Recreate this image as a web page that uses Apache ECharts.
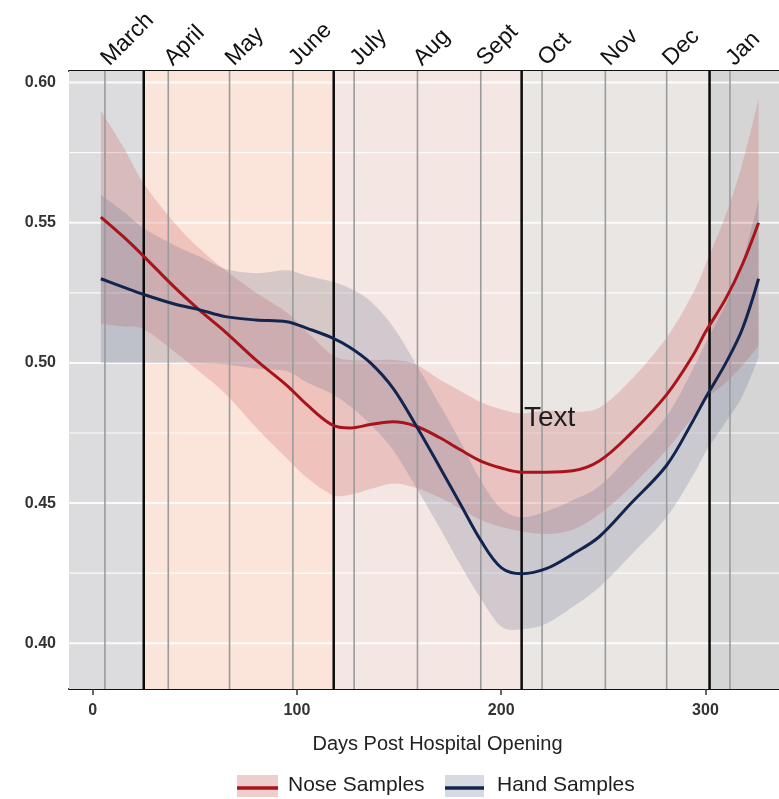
<!DOCTYPE html>
<html>
<head>
<meta charset="utf-8">
<script src="https://cdn.jsdelivr.net/npm/echarts@6/dist/echarts.min.js"></script>
<style>
  html, body { margin: 0; padding: 0; background: #fff; }
  #chart { width: 779px; height: 799px; }
</style>
</head>
<body>
<div id="chart"></div>
<script>
// axis ranges
const xMin = -11.6
const xMax = 336
const yMin = 0.3837
const yMax = 0.6041

const xTicks = [0, 100, 200, 300]
const yMajor = [0.40, 0.45, 0.50, 0.55, 0.60]
const yMinor = [0.425, 0.475, 0.525, 0.575]

const monthNames = ['March', 'April', 'May', 'June', 'July', 'Aug', 'Sept', 'Oct', 'Nov', 'Dec', 'Jan']
const monthDays = [6, 37, 67, 98, 128, 159, 190, 220, 251, 281, 312]
const seasonLines = [25, 118, 210, 302]
const seasonEdges = [xMin, 25, 118, 210, 302, xMax]
const seasonColors = ['#dcdcde', '#fbe5db', '#f4e6e3', '#e9e6e4', '#d5d5d6']

// smoothed curves and confidence ribbons
const days = [4, 15, 25, 40, 52, 65, 80, 95, 105, 117, 126, 136, 147, 158, 170, 180, 190, 200, 210, 222, 235, 248, 263, 281, 294, 300, 310, 318, 326]
const noseMid = [0.552, 0.545, 0.538, 0.527, 0.519, 0.511, 0.501, 0.492, 0.485, 0.478, 0.4768, 0.478, 0.479, 0.4775, 0.4733, 0.469, 0.465, 0.4625, 0.461, 0.461, 0.4615, 0.465, 0.4745, 0.4887, 0.5028, 0.511, 0.523, 0.535, 0.550]
const noseLow = [0.514, 0.513, 0.512, 0.504, 0.497, 0.489, 0.477, 0.466, 0.459, 0.453, 0.453, 0.455, 0.457, 0.4555, 0.452, 0.448, 0.444, 0.4415, 0.440, 0.439, 0.4405, 0.446, 0.4555, 0.469, 0.481, 0.487, 0.493, 0.499, 0.506]
const noseHigh = [0.590, 0.577, 0.564, 0.550, 0.541, 0.533, 0.525, 0.518, 0.511, 0.503, 0.501, 0.501, 0.501, 0.4995, 0.494, 0.490, 0.486, 0.4835, 0.482, 0.483, 0.4825, 0.484, 0.4935, 0.509, 0.525, 0.535, 0.553, 0.571, 0.594]
const handMid = [0.530, 0.527, 0.5244, 0.521, 0.519, 0.5165, 0.5153, 0.5147, 0.5123, 0.509, 0.5055, 0.500, 0.491, 0.478, 0.4627, 0.4497, 0.4367, 0.427, 0.4248, 0.4266, 0.4318, 0.438, 0.4495, 0.4635, 0.4795, 0.4875, 0.500, 0.512, 0.530]
const handLow = [0.500, 0.500, 0.500, 0.500, 0.500, 0.4995, 0.498, 0.497, 0.493, 0.489, 0.4845, 0.478, 0.469, 0.456, 0.441, 0.428, 0.416, 0.406, 0.405, 0.407, 0.413, 0.420, 0.431, 0.445, 0.460, 0.468, 0.479, 0.488, 0.502]
const handHigh = [0.560, 0.554, 0.548, 0.542, 0.538, 0.5335, 0.532, 0.533, 0.531, 0.529, 0.5265, 0.522, 0.513, 0.500, 0.485, 0.472, 0.458, 0.448, 0.445, 0.447, 0.451, 0.456, 0.467, 0.481, 0.498, 0.507, 0.521, 0.536, 0.558]

const FONT = 'Liberation Sans, Arial, sans-serif'
const NOSE = '#a8141b'
const HAND = '#13254f'

const chart = echarts.init(document.getElementById('chart'))

// catmull-rom through pixel points -> svg path commands (no leading M)
const curveThrough = (pts) => {
  let d = ''
  for (let i = 0; i < pts.length - 1; i++) {
    const p0 = pts[Math.max(i - 1, 0)]
    const p1 = pts[i]
    const p2 = pts[i + 1]
    const p3 = pts[Math.min(i + 2, pts.length - 1)]
    const c1 = [p1[0] + (p2[0] - p0[0]) / 6, p1[1] + (p2[1] - p0[1]) / 6]
    const c2 = [p2[0] - (p3[0] - p1[0]) / 6, p2[1] - (p3[1] - p1[1]) / 6]
    d += ' C' + c1[0] + ' ' + c1[1] + ' ' + c2[0] + ' ' + c2[1] + ' ' + p2[0] + ' ' + p2[1]
  }
  return d
}

// ribbon: upper edge forward, lower edge back
const ribbonItem = (low, high, fill) => (params, api) => {
  const top = days.map((d, i) => api.coord([d, high[i]]))
  const bot = days.map((d, i) => api.coord([d, low[i]])).reverse()
  const path = 'M' + top[0][0] + ' ' + top[0][1] + curveThrough(top) +
    ' L' + bot[0][0] + ' ' + bot[0][1] + curveThrough(bot) + ' Z'
  return { type: 'path', shape: { pathData: path }, style: { fill: fill } }
}

const option = {
  animation: false,
  textStyle: { fontFamily: FONT },
  grid: { left: 69, top: 71, right: 0, bottom: 110 },
  xAxis: [
    {
      type: 'value',
      position: 'bottom',
      min: xMin,
      max: xMax,
      axisLine: { show: true, onZero: false, lineStyle: { color: '#111', width: 2 } },
      axisTick: { show: true, customValues: xTicks, length: 6, lineStyle: { color: '#333', width: 1.5 } },
      axisLabel: { customValues: xTicks, fontSize: 16, fontWeight: 'bold', color: '#333', margin: 14 },
      splitLine: { show: false },
      name: 'Days Post Hospital Opening',
      nameLocation: 'middle',
      nameGap: 45,
      nameTextStyle: { fontSize: 20, color: '#222', padding: [0, 0, 0, 27] }
    },
    {
      type: 'value',
      position: 'top',
      min: xMin,
      max: xMax,
      axisLine: { show: true, onZero: false, lineStyle: { color: '#111', width: 2 } },
      axisTick: { show: false },
      axisLabel: {
        customValues: monthDays,
        formatter: function (v) { return monthNames[monthDays.indexOf(v)] },
        rotate: -45,
        fontSize: 23,
        color: '#111',
        margin: 9
      },
      splitLine: { show: false }
    }
  ],
  yAxis: {
    type: 'value',
    min: yMin,
    max: yMax,
    axisLine: { show: true, lineStyle: { color: '#111', width: 2 } },
    axisTick: { show: true, customValues: yMajor, length: 4, lineStyle: { color: '#333', width: 1.5 } },
    axisLabel: {
      customValues: yMajor,
      formatter: function (v) { return v.toFixed(2) },
      fontSize: 16,
      fontWeight: 'bold',
      color: '#333',
      margin: 13
    },
    splitLine: { show: false }
  },
  series: [
    {
      // season backgrounds
      type: 'custom',
      z: 1,
      silent: true,
      data: seasonColors.map((c, i) => [seasonEdges[i], seasonEdges[i + 1], i]),
      encode: { x: [0, 1] },
      renderItem: function (params, api) {
        const p0 = api.coord([api.value(0), yMax])
        const p1 = api.coord([api.value(1), yMin])
        return {
          type: 'rect',
          shape: { x: p0[0], y: p0[1], width: p1[0] - p0[0], height: p1[1] - p0[1] },
          style: { fill: seasonColors[api.value(2)] }
        }
      }
    },
    {
      // white horizontal grid lines
      type: 'custom',
      z: 2,
      silent: true,
      data: yMajor.map(v => [v, 1]).concat(yMinor.map(v => [v, 0])),
      encode: { y: 0 },
      renderItem: function (params, api) {
        const a = api.coord([xMin, api.value(0)])
        const b = api.coord([xMax, api.value(0)])
        return {
          type: 'line',
          shape: { x1: a[0], y1: a[1], x2: b[0], y2: b[1] },
          style: { stroke: 'rgba(255,255,255,0.85)', lineWidth: api.value(1) ? 2 : 1.2 }
        }
      }
    },
    {
      type: 'custom',
      z: 3,
      silent: true,
      data: [0],
      renderItem: ribbonItem(noseLow, noseHigh, 'rgba(205, 95, 95, 0.26)')
    },
    {
      type: 'custom',
      z: 3,
      silent: true,
      data: [0],
      renderItem: ribbonItem(handLow, handHigh, 'rgba(85, 100, 130, 0.22)')
    },
    {
      // month lines (grey) and season boundaries (black)
      type: 'custom',
      z: 4,
      silent: true,
      data: monthDays.map(d => [d, 0]).concat(seasonLines.map(d => [d, 1])),
      encode: { x: 0 },
      renderItem: function (params, api) {
        const a = api.coord([api.value(0), yMax])
        const b = api.coord([api.value(0), yMin])
        const black = api.value(1) === 1
        return {
          type: 'line',
          shape: { x1: a[0], y1: a[1], x2: b[0], y2: b[1] },
          style: { stroke: black ? '#0a0a0a' : '#9b9b9b', lineWidth: black ? 2.5 : 1.6 }
        }
      }
    },
    {
      name: 'Nose Samples',
      type: 'line',
      z: 5,
      data: days.map((d, i) => [d, noseMid[i]]),
      smooth: 0.35,
      showSymbol: false,
      lineStyle: { color: NOSE, width: 3 }
    },
    {
      name: 'Hand Samples',
      type: 'line',
      z: 5,
      data: days.map((d, i) => [d, handMid[i]]),
      smooth: 0.35,
      showSymbol: false,
      lineStyle: { color: HAND, width: 3 }
    }
  ],
  graphic: [
    { type: 'text', left: 524, top: 404, z: 10, style: { text: 'Text', fontSize: 28, fill: '#1e1e1e', fontFamily: FONT } },
    // legend
    { type: 'rect', left: 237, top: 775, shape: { width: 41, height: 22 }, style: { fill: 'rgba(236, 200, 200, 0.9)' } },
    { type: 'line', shape: { x1: 237, y1: 788, x2: 278, y2: 788 }, style: { stroke: NOSE, lineWidth: 3.5 } },
    { type: 'text', left: 288, top: 775, style: { text: 'Nose Samples', fontSize: 21, fill: '#1e1e1e', fontFamily: FONT } },
    { type: 'rect', left: 445, top: 775, shape: { width: 39, height: 22 }, style: { fill: 'rgba(212, 217, 226, 0.95)' } },
    { type: 'line', shape: { x1: 445, y1: 788, x2: 484, y2: 788 }, style: { stroke: HAND, lineWidth: 3.5 } },
    { type: 'text', left: 497, top: 775, style: { text: 'Hand Samples', fontSize: 21, fill: '#1e1e1e', fontFamily: FONT } }
  ]
}

chart.setOption(option)
</script>
</body>
</html>
